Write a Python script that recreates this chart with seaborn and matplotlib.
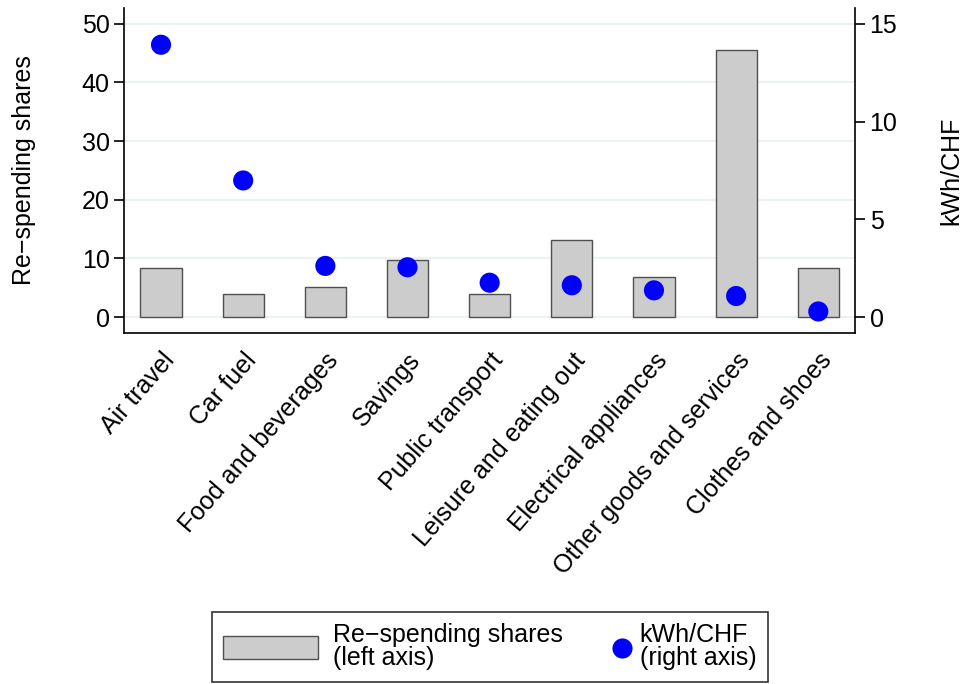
import numpy as np
import pandas as pd
import matplotlib
matplotlib.use("Agg")
import matplotlib.pyplot as plt
import seaborn as sns
from matplotlib.patches import Patch
from matplotlib.lines import Line2D
from matplotlib.legend_handler import HandlerBase

# --- data ---
categories = ['Air travel', 'Car fuel', 'Food and beverages', 'Savings',
              'Public transport', 'Leisure and eating out',
              'Electrical appliances', 'Other goods and services',
              'Clothes and shoes']
respending_shares = [8.3, 3.9, 5.2, 9.7, 3.9, 13.1, 6.9, 45.6, 8.4]
kwh_per_chf = [13.93, 6.99, 2.62, 2.55, 1.76, 1.63, 1.37, 1.08, 0.29]
left_ticks = [0, 10, 20, 30, 40, 50]
right_ticks = [0, 5, 10, 15]

df = pd.DataFrame({'Category': categories,
                   'Share': respending_shares,
                   'kWh': kwh_per_chf})
df['pos'] = np.arange(len(df))

sns.set_style('white')
plt.rcParams['font.family'] = ['Liberation Sans', 'DejaVu Sans']
plt.rcParams['text.color'] = 'black'
plt.rcParams['axes.labelcolor'] = 'black'
fs = 18

fig = plt.figure(figsize=(9.62, 6.84), dpi=100)
ax = fig.add_axes([0.1292, 0.5132, 0.7596, 0.4751])

sns.barplot(data=df, x='Category', y='Share', ax=ax, color='#cccccc',
            edgecolor='#505050', linewidth=1.0, width=0.5, saturation=1, zorder=2)
ax.set_xlim(-0.447, len(categories) - 1 + 0.447)
ax.set_ylim(-2.7, 52.7)
ax.set_yticks(left_ticks)
for t in left_ticks:
    ax.axhline(t, color='#eaf2f3', lw=1.5, zorder=0)

ax2 = ax.twinx()
sns.scatterplot(data=df, x='pos', y='kWh', ax=ax2, color='#0000ff', s=210,
                edgecolor='none', zorder=3, legend=False)
ax2.set_ylim(-2.7 * 0.3, 52.7 * 0.3)
ax2.set_yticks(right_ticks)
ax2.set_xlim(ax.get_xlim())

for a in (ax, ax2):
    for s in a.spines.values():
        s.set_color('black')
        s.set_linewidth(1.2)
    a.spines['top'].set_visible(False)
    a.tick_params(axis='both', direction='out', length=7, width=1.2,
                  labelsize=fs, colors='black')
ax.spines['right'].set_visible(False)
ax2.spines['left'].set_visible(False)
ax2.spines['bottom'].set_visible(False)
ax.tick_params(axis='x', pad=4)
ax.set_xticks(np.arange(len(categories)))
ax.set_xticklabels(categories, rotation=49, ha='right', rotation_mode='anchor',
                   fontsize=fs)
ax.set_xlabel('')
ax2.set_xlabel('')
ax.set_ylabel('Re\u2212spending shares', fontsize=fs, labelpad=33)
ax2.set_ylabel('kWh/CHF', fontsize=fs, labelpad=30)


# legend marker drawn at the right end of its handle box
class RightMarker(HandlerBase):
    def create_artists(self, legend, orig_handle, xdescent, ydescent,
                       width, height, fontsize, trans):
        ms = orig_handle.get_markersize()
        m = Line2D([width - xdescent - ms / 2 + 5], [height / 2 - ydescent],
                   marker='o', linestyle='none', markersize=ms,
                   markerfacecolor=orig_handle.get_markerfacecolor(),
                   markeredgecolor='none', transform=trans)
        return [m]


bar_handle = Patch(facecolor='#cccccc', edgecolor='#505050', linewidth=1.0)
dot_handle = Line2D([], [], marker='o', linestyle='none', markersize=14.5,
                    markerfacecolor='#0000ff', markeredgecolor='none')
labels = ['Re\u2212spending shares\n(left axis)', 'kWh/CHF\n(right axis)']
leg = fig.legend([bar_handle, dot_handle], labels, loc='upper center', ncol=2,
                 bbox_to_anchor=(0.509, 1 - 612 / 684), borderaxespad=0,
                 fontsize=fs, frameon=True, fancybox=False, edgecolor='black',
                 handlelength=3.8, handleheight=1.05, handletextpad=0.6,
                 columnspacing=-1.32, borderpad=0.45, labelspacing=0.2,
                 handler_map={Line2D: RightMarker()})
leg.get_frame().set_linewidth(1.2)
for t in leg.get_texts():
    t.set_linespacing(0.95)
    t.set_color('black')

fig.savefig('out.png', dpi=100)
